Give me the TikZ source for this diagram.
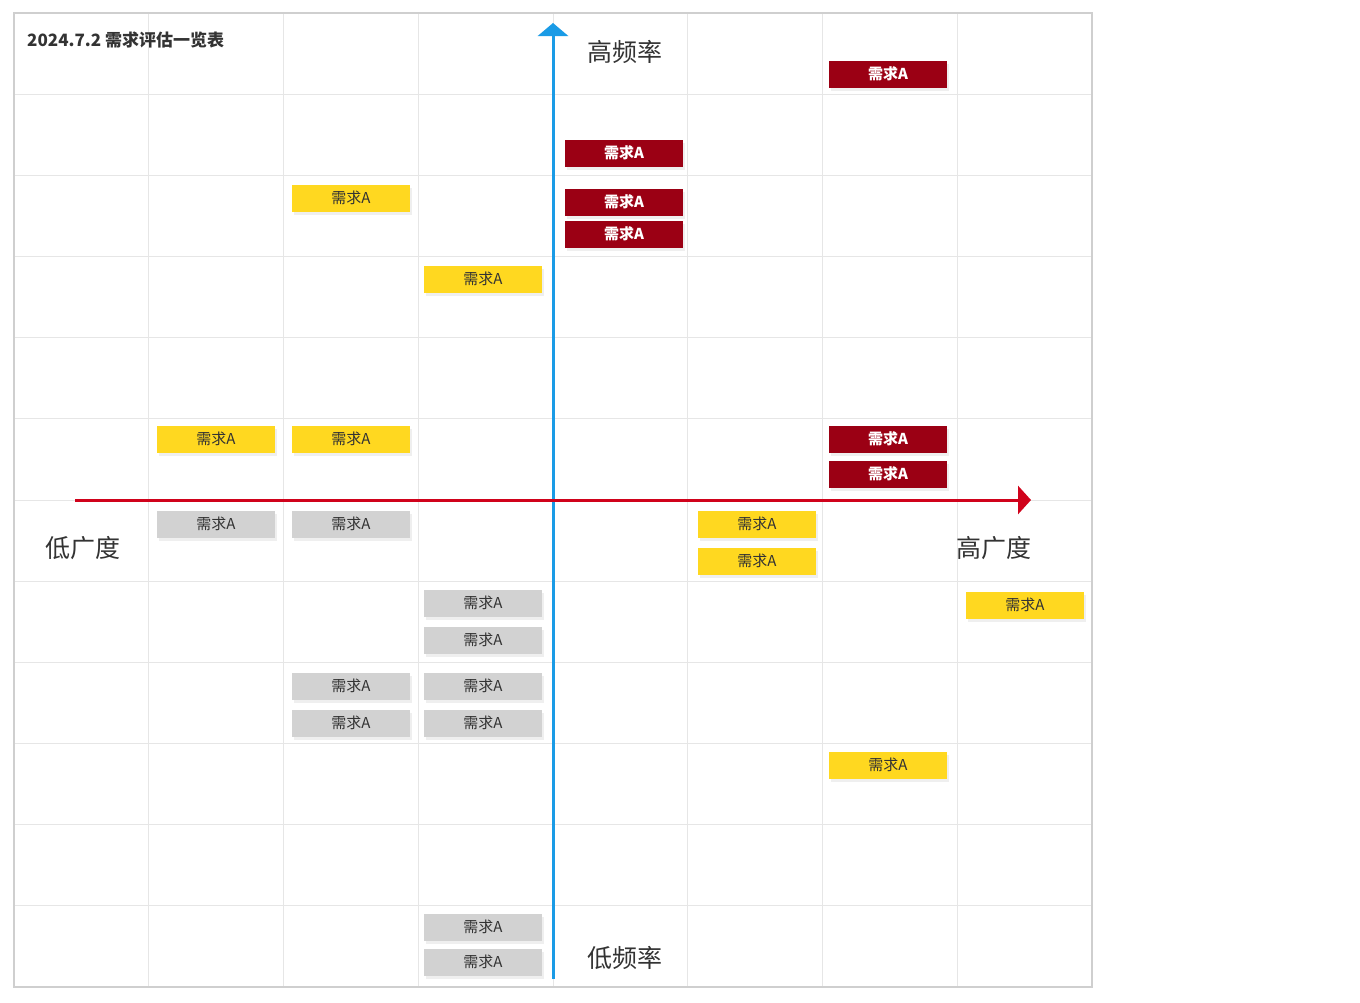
\documentclass[tikz,border=0pt]{standalone}
\usepackage{fontspec}
\newfontfamily\cjk{Noto Sans CJK SC}
\usetikzlibrary{arrows.meta,shadows}
\definecolor{gridc}{HTML}{E6E6E6}
\definecolor{framec}{HTML}{CFCFCF}
\definecolor{axblue}{HTML}{1A9BE6}
\definecolor{axred}{HTML}{D0021B}
\definecolor{boxred}{HTML}{9B0014}
\definecolor{boxyel}{HTML}{FFD820}
\definecolor{boxgry}{HTML}{D2D2D2}
\definecolor{txtc}{HTML}{333333}
\tikzset{
  tag/.style={minimum width=118pt,minimum height=27pt,inner sep=0pt,font=\cjk\fontsize{15}{15}\selectfont,
    drop shadow={opacity=0.12,shadow xshift=1.5pt,shadow yshift=-3.5pt}},
  hot/.style={tag,fill=boxred,text=white,font=\cjk\bfseries\fontsize{15}{15}\selectfont},
  mid/.style={tag,fill=boxyel,text=txtc},
  low/.style={tag,fill=boxgry,text=txtc},
  axlabel/.style={font=\cjk\fontsize{25}{25}\selectfont,text=txtc,inner sep=0pt}
}
\begin{document}
\begin{tikzpicture}[x=1pt,y=-1pt]
\useasboundingbox[fill=white] (0,0) rectangle (1360,1002);
% grid
\foreach \i in {1,...,7} {\draw[gridc,line width=1pt] ({14+\i*134.75},13) -- ({14+\i*134.75},987);}
\foreach \j in {1,...,11} {\draw[gridc,line width=1pt] (14,{13+\j*81.1667}) -- (1092,{13+\j*81.1667});}
\draw[framec,line width=2pt] (14,13) rectangle (1092,987);
% title
\node[anchor=west,inner sep=0pt,font=\cjk\bfseries\fontsize{17}{17}\selectfont,text=txtc] (title) at (27,40) {2024.7.2 需求评估一览表};
% axes
\coordinate (vb) at (553,979);
\coordinate (vt) at (553,23);
\coordinate (hl) at (75,500);
\coordinate (hr) at (1031,500);
\draw[axblue,line width=3pt,-{Triangle[width=30pt,length=13pt]}] (vb) -- (vt);
\draw[axred,line width=3pt,-{Triangle[width=28pt,length=13pt]}] (hl) -- (hr);
% axis labels
\node[axlabel] (hf) at (625,52) {高频率};
\node[axlabel] (lf) at (625,958) {低频率};
\node[axlabel] (lb) at (83,548) {低广度};
\node[axlabel] (hb) at (994,548) {高广度};
% dark red
\node[hot] (r1) at (888,74) {需求A};
\node[hot] (r2) at (624,153) {需求A};
\node[hot] (r3) at (624,202) {需求A};
\node[hot] (r4) at (624,234) {需求A};
\node[hot] (r5) at (888,439) {需求A};
\node[hot] (r6) at (888,474) {需求A};
% yellow
\node[mid] (y1) at (351,198) {需求A};
\node[mid] (y2) at (483,279) {需求A};
\node[mid] (y3) at (216,439) {需求A};
\node[mid] (y4) at (351,439) {需求A};
\node[mid] (y5) at (757,524) {需求A};
\node[mid] (y6) at (757,561) {需求A};
\node[mid] (y7) at (1025,605) {需求A};
\node[mid] (y8) at (888,765) {需求A};
% grey
\node[low] (g1) at (216,524) {需求A};
\node[low] (g2) at (351,524) {需求A};
\node[low] (g3) at (483,603) {需求A};
\node[low] (g4) at (483,640) {需求A};
\node[low] (g5) at (351,686) {需求A};
\node[low] (g6) at (483,686) {需求A};
\node[low] (g7) at (351,723) {需求A};
\node[low] (g8) at (483,723) {需求A};
\node[low] (g9) at (483,927) {需求A};
\node[low] (g10) at (483,962) {需求A};
\end{tikzpicture}
\end{document}
